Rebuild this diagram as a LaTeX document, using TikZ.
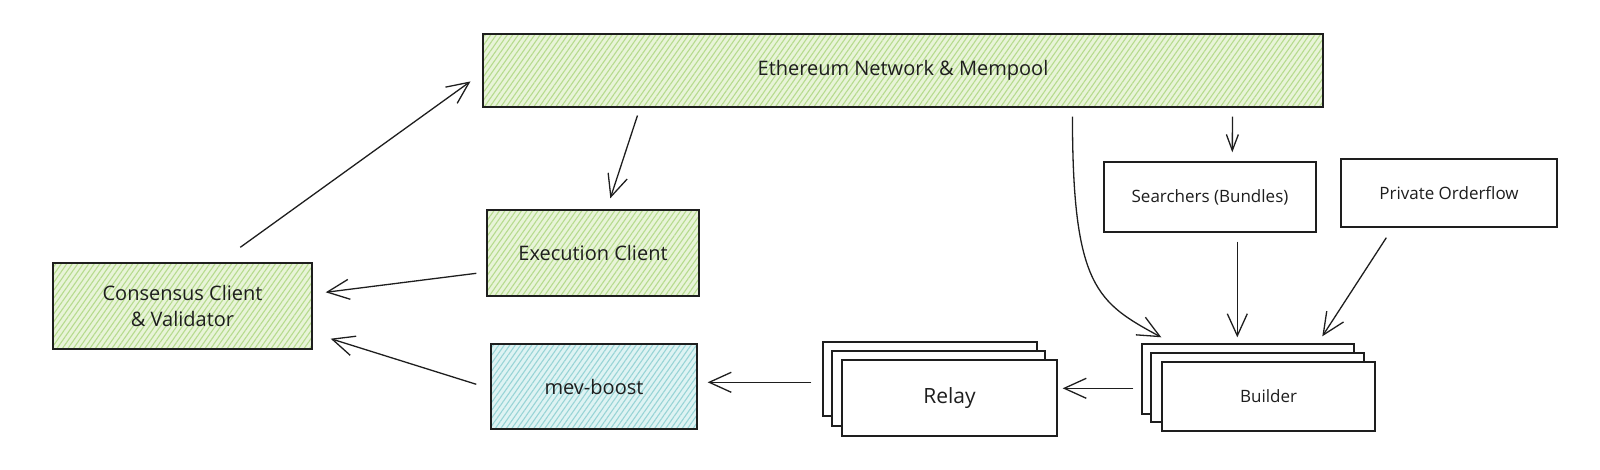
\documentclass[tikz,border=0pt]{standalone}
\usepackage{fontspec}
\setmainfont{Open Sans}
\usetikzlibrary{arrows.meta,patterns.meta,calc}
\definecolor{gbg}{RGB}{232,244,216}
\definecolor{gln}{RGB}{182,219,142}
\definecolor{bbg}{RGB}{222,243,243}
\definecolor{bln}{RGB}{152,212,214}
\definecolor{ink}{RGB}{30,30,30}
\tikzset{
  box/.style={draw=ink, line width=1.4pt, inner sep=0pt, align=center, text=ink},
  greenbox/.style={box, preaction={fill=gbg}, pattern={Lines[angle=55,distance=4.5pt,line width=1.1pt]}, pattern color=gln},
  bluebox/.style={box, preaction={fill=bbg}, pattern={Lines[angle=55,distance=4.5pt,line width=1.1pt]}, pattern color=bln},
  whitebox/.style={box, fill=white},
  arr/.style={draw=ink, line width=1.3pt, -{Straight Barb[length=22pt,width=20pt,line width=1.3pt]}},
  arrs/.style={draw=ink, line width=1.3pt, -{Straight Barb[length=16pt,width=12pt,line width=1.3pt]}},
  big/.style={font=\fontsize{20}{26}\selectfont},
  small/.style={font=\fontsize{17}{22}\selectfont},
}
\begin{document}
\begin{tikzpicture}[x=1pt,y=-1pt]
\useasboundingbox (0,0) rectangle (1600,469);
% main nodes
\node[greenbox, big, minimum width=840pt, minimum height=73pt] (eth) at (903,70.5) {Ethereum Network \& Mempool};
\node[greenbox, big, minimum width=212pt, minimum height=86pt] (exec) at (593,253) {Execution Client};
\node[bluebox, big, minimum width=206pt, minimum height=85pt] (mev) at (594,386.5) {mev-boost};
\node[greenbox, big, minimum width=259pt, minimum height=86pt] (cons) at (182.5,306) {Consensus Client\\\& Validator};
\node[whitebox, small, minimum width=212pt, minimum height=70pt] (search) at (1210,197) {Searchers (Bundles)};
\node[whitebox, small, minimum width=216pt, minimum height=68pt] (priv) at (1449,193) {Private Orderflow};
% relay stack
\node[whitebox, minimum width=214pt, minimum height=74pt] (relayc) at (930,379) {};
\node[whitebox, minimum width=213pt, minimum height=75pt] (relayb) at (938.5,388.5) {};
\node[whitebox, font=\fontsize{21}{26}\selectfont, minimum width=215pt, minimum height=76pt] (relay) at (949.5,398) {Relay};
% builder stack
\node[whitebox, minimum width=212pt, minimum height=70pt] (builderc) at (1248,379) {};
\node[whitebox, minimum width=213pt, minimum height=69pt] (builderb) at (1257.5,387.5) {};
\node[whitebox, font=\fontsize{17}{20}\selectfont, minimum width=213pt, minimum height=69pt] (builder) at (1268.5,396.5) {Builder};
% connectors
\draw[arr] ($(cons.north west)+(188,-15)$) -- ($(eth.north west)+(-12,48)$);
\draw[arr] ($(eth.south west)+(155,8)$) -- ($(exec.north west)+(124,-11)$);
\draw[arr] ($(exec.north west)+(-10,64)$) -- ($(cons.north east)+(13,30)$);
\draw[arr] ($(mev.north west)+(-14,41)$) -- ($(cons.south east)+(18,-11)$);
\draw[arr] ($(relayc.north west)+(-11,41)$) -- ($(mev.north east)+(10,39)$);
\draw[arr] ($(builderc.north west)+(-8,45)$) -- ($(relay.north east)+(5,29)$);
\draw[arrs] ($(eth.south west)+(750,9)$) -- ($(search.north west)+(129,-9)$);
\draw[arr] ($(eth.south west)+(590,9)$) .. controls ($(eth.south west)+(590,180)$) and ($(eth.south west)+(615,195)$) .. ($(builder.north west)+(0,-24)$);
\draw[arr] ($(search.south west)+(134,9)$) -- ($(builder.north west)+(76,-24)$);
\draw[arr] ($(priv.south west)+(46,10)$) -- ($(builder.north west)+(161,-25)$);
\end{tikzpicture}
\end{document}
